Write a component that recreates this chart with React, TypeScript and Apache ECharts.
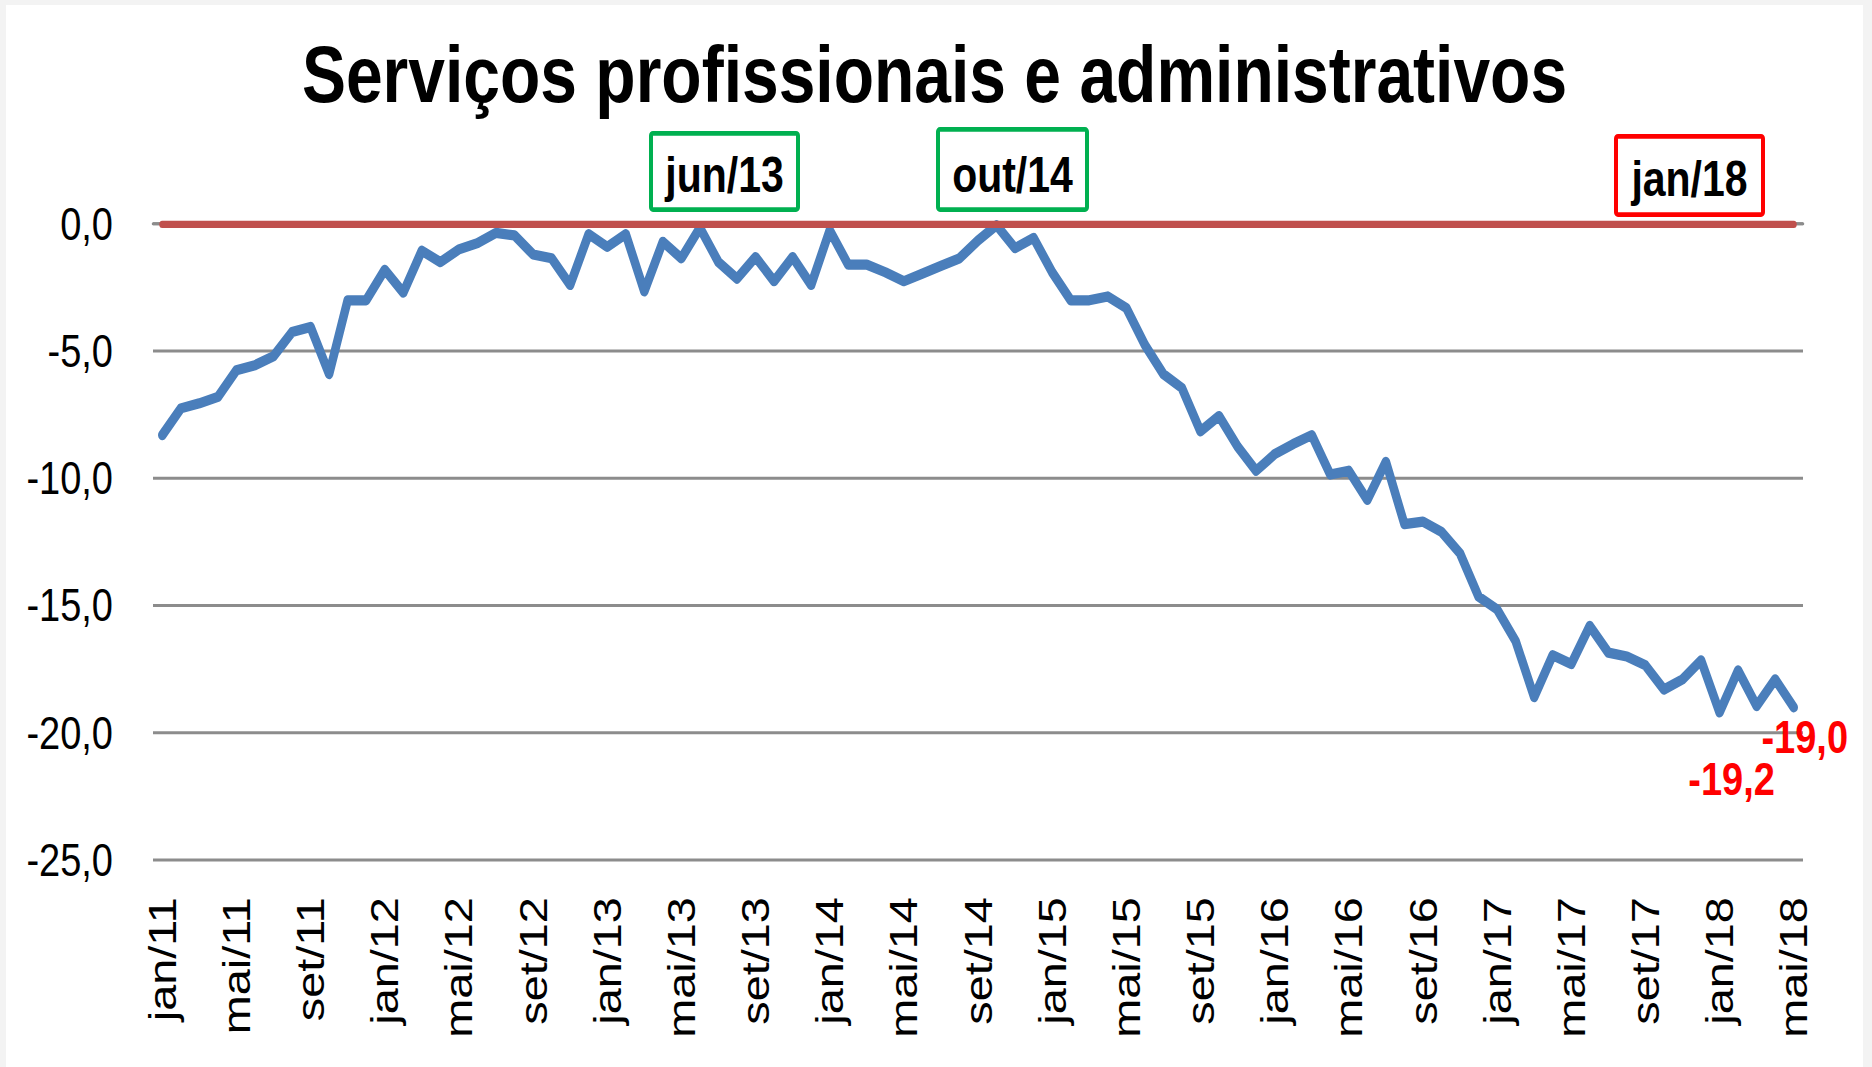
import React, { useEffect, useRef } from "react";
import * as echarts from "echarts";

const categories: string[] = [
  "jan/11", "fev/11", "mar/11", "abr/11", "mai/11", "jun/11", "jul/11", "ago/11", "set/11", "out/11", "nov/11", "dez/11",
  "jan/12", "fev/12", "mar/12", "abr/12", "mai/12", "jun/12", "jul/12", "ago/12", "set/12", "out/12", "nov/12", "dez/12",
  "jan/13", "fev/13", "mar/13", "abr/13", "mai/13", "jun/13", "jul/13", "ago/13", "set/13", "out/13", "nov/13", "dez/13",
  "jan/14", "fev/14", "mar/14", "abr/14", "mai/14", "jun/14", "jul/14", "ago/14", "set/14", "out/14", "nov/14", "dez/14",
  "jan/15", "fev/15", "mar/15", "abr/15", "mai/15", "jun/15", "jul/15", "ago/15", "set/15", "out/15", "nov/15", "dez/15",
  "jan/16", "fev/16", "mar/16", "abr/16", "mai/16", "jun/16", "jul/16", "ago/16", "set/16", "out/16", "nov/16", "dez/16",
  "jan/17", "fev/17", "mar/17", "abr/17", "mai/17", "jun/17", "jul/17", "ago/17", "set/17", "out/17", "nov/17", "dez/17",
  "jan/18", "fev/18", "mar/18", "abr/18", "mai/18",
];

const values: number[] = [
  -8.3, -7.25, -7.05, -6.8, -5.75, -5.55, -5.2, -4.25, -4.05, -5.9, -3.0, -3.0,
  -1.8, -2.7, -1.05, -1.5, -1.0, -0.75, -0.35, -0.45, -1.2, -1.35, -2.4, -0.4,
  -0.9, -0.4, -2.65, -0.7, -1.35, -0.15, -1.5, -2.15, -1.3, -2.25, -1.3, -2.4,
  -0.25, -1.6, -1.6, -1.9, -2.25, -1.95, -1.65, -1.35, -0.65, -0.05, -0.95, -0.55,
  -1.9, -3.0, -3.0, -2.85, -3.3, -4.75, -5.9, -6.45, -8.15, -7.55, -8.75, -9.7,
  -9.05, -8.65, -8.3, -9.85, -9.7, -10.85, -9.35, -11.8, -11.7, -12.1, -12.95, -14.65,
  -15.15, -16.4, -18.6, -16.95, -17.3, -15.8, -16.85, -17.0, -17.35, -18.3, -17.9, -17.15,
  -19.2, -17.55, -18.95, -17.9, -19.0,
];

const yMin = -25;
const yMax = 0;
const yStep = 5;

const titleText = "Serviços profissionais e administrativos";

// annotation boxes: label and border colour
const annotationLabels = ["jun/13", "out/14", "jan/18"];
const annotationColors = ["#00b050", "#00b050", "#ff0000"];

// points that carry a value label
const labeledCategories = ["jan/18", "mai/18"];

const FONT = "'Liberation Sans', Arial, sans-serif";
const CHART_H = 889;
const SY = 1067 / CHART_H;

const fmt = (v: number) => v.toFixed(1).replace(".", ",");

export default function App() {
  const ref = useRef<HTMLDivElement>(null);

  useEffect(() => {
    if (!ref.current) return;
    const chart = echarts.init(ref.current, null, { renderer: "svg" });

    const boxGeom = [
      { x: 651, y: 111.1, w: 147, h: 63.5, tx: 724.5, ty: 146 },
      { x: 938, y: 107.8, w: 149, h: 66.8, tx: 1012.5, ty: 146 },
      { x: 1616, y: 113.6, w: 147, h: 65.2, tx: 1689.5, ty: 149 },
    ];
    const labelOffsets = [
      [12, 56],
      [11, 25],
    ];

    const graphic: any[] = [
      {
        type: "text",
        x: 934.5,
        y: 62,
        style: {
          text: titleText,
          fontSize: 66,
          fontWeight: "bold",
          fontFamily: FONT,
          fill: "#000",
          align: "center",
          verticalAlign: "middle",
        },
      },
    ];
    annotationLabels.forEach((lab, i) => {
      const g = boxGeom[i];
      graphic.push({
        type: "rect",
        shape: { x: g.x, y: g.y, width: g.w, height: g.h, r: 2 },
        style: { fill: "#fff", stroke: annotationColors[i], lineWidth: 4 },
        z: 10,
      });
      graphic.push({
        type: "text",
        x: g.tx,
        y: g.ty,
        z: 11,
        style: {
          text: lab,
          fontSize: 41,
          fontWeight: "bold",
          fontFamily: FONT,
          fill: "#000",
          align: "center",
          verticalAlign: "middle",
        },
      });
    });

    chart.setOption({
      animation: false,
      textStyle: { fontFamily: FONT },
      grid: { left: 153, right: 69, top: 186.6, bottom: CHART_H - 716.5 },
      xAxis: {
        type: "category",
        data: categories,
        boundaryGap: true,
        axisLine: { show: true, lineStyle: { color: "#8c8c8c", width: 2.5 } },
        axisTick: { show: false },
        axisLabel: {
          interval: 3,
          rotate: 90,
          fontSize: 39,
          margin: 31,
          color: "#000",
          fontFamily: FONT,
        },
        splitLine: { show: false },
      },
      yAxis: {
        type: "value",
        min: yMin,
        max: yMax,
        interval: yStep,
        axisLine: { show: false },
        axisTick: { show: false },
        axisLabel: {
          fontSize: 38,
          margin: 40,
          color: "#000",
          fontFamily: FONT,
          formatter: (v: number) => fmt(v),
        },
        splitLine: { show: true, lineStyle: { color: "#8c8c8c", width: 2.5 } },
      },
      series: [
        {
          type: "line",
          data: values,
          symbol: "none",
          z: 2,
          lineStyle: { color: "#4a7ebb", width: 8.5, join: "round", cap: "round" },
          markLine: {
            silent: true,
            symbol: ["none", "none"],
            label: { show: false },
            lineStyle: { type: "solid", color: "#c0504d", width: 6, cap: "round" },
            data: [
              [
                { coord: [categories[0], 0] },
                { coord: [categories[categories.length - 1], 0] },
              ],
            ],
          },
          markPoint: {
            silent: true,
            symbol: "circle",
            symbolSize: 0,
            itemStyle: { color: "transparent" },
            data: labeledCategories.map((c, i) => {
              const idx = categories.indexOf(c);
              return {
                coord: [c, values[idx]],
                value: values[idx],
                label: {
                  show: true,
                  position: "inside",
                  offset: labelOffsets[i],
                  formatter: () => fmt(values[idx]),
                  color: "#ff0000",
                  fontWeight: "bold",
                  fontSize: 38,
                  fontFamily: FONT,
                  align: "center",
                  verticalAlign: "middle",
                },
              };
            }),
          },
        },
      ],
      graphic,
    });

    return () => chart.dispose();
  }, []);

  return (
    <div
      style={{
        position: "absolute",
        left: 0,
        top: 0,
        width: 1872,
        height: 1067,
        background: "#f3f3f3",
        overflow: "hidden",
      }}
    >
      <div
        style={{
          position: "absolute",
          left: 6,
          top: 5,
          width: 1857,
          height: 1062,
          background: "#ffffff",
        }}
      />
      <div
        ref={ref}
        style={{
          position: "absolute",
          left: 0,
          top: 0,
          width: 1872,
          height: CHART_H,
          transform: `scaleY(${SY})`,
          transformOrigin: "0 0",
        }}
      />
    </div>
  );
}
